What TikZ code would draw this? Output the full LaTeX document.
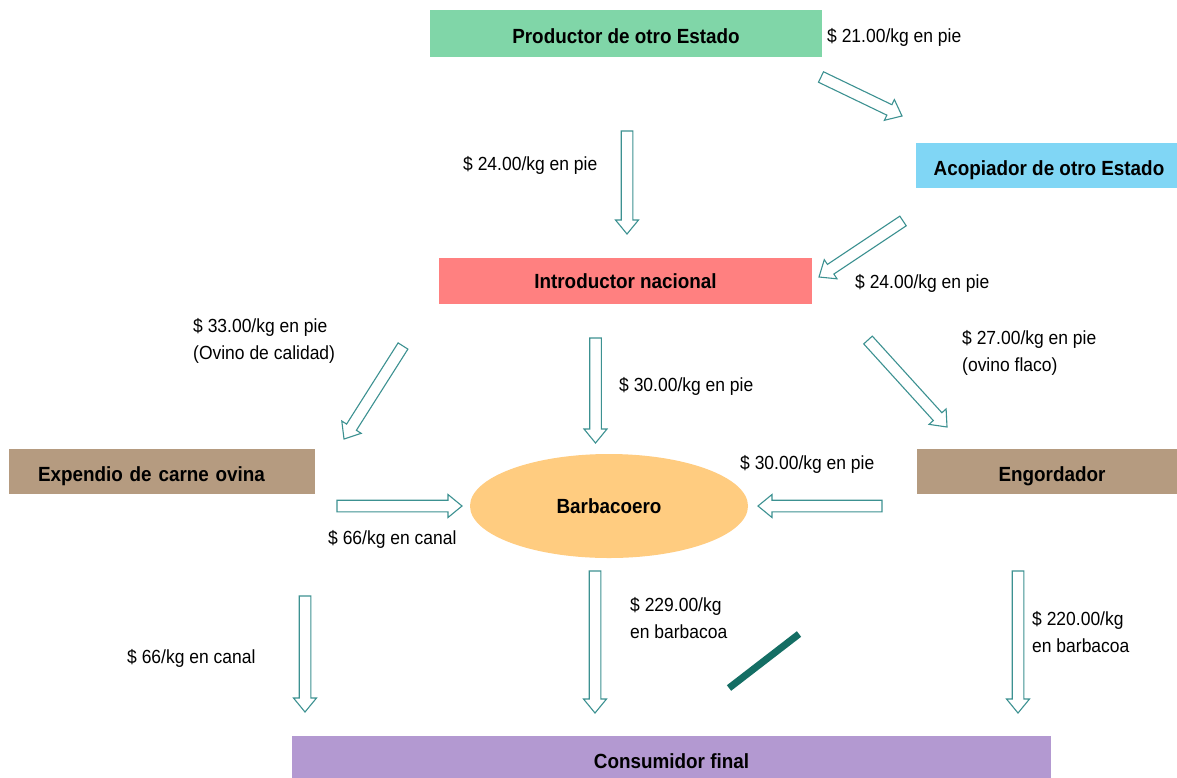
\documentclass[tikz,border=0pt]{standalone}
\usepackage{fontspec}
\setmainfont[FakeStretch=0.92]{Liberation Sans}
\usetikzlibrary{calc,shapes.geometric}
\definecolor{cgreen}{RGB}{128,214,168}
\definecolor{cblue}{RGB}{128,214,245}
\definecolor{cred}{RGB}{255,128,128}
\definecolor{ctan}{RGB}{181,155,128}
\definecolor{corange}{RGB}{255,204,128}
\definecolor{cpurple}{RGB}{179,153,209}
\definecolor{carrow}{RGB}{60,145,145}
\definecolor{cslash}{RGB}{20,110,100}
\newcommand\barrow[2]{%
  \coordinate (h-#1-#2) at ($(#2)!14pt!(#1)$);
  \draw[blockarr] ($(#1)!5.8pt!90:(#2)$) -- ($(h-#1-#2)!5.8pt!90:(#2)$)
    -- ($(h-#1-#2)!11.5pt!90:(#2)$) -- (#2)
    -- ($(h-#1-#2)!11.5pt!-90:(#2)$) -- ($(h-#1-#2)!5.8pt!-90:(#2)$)
    -- ($(#1)!5.8pt!-90:(#2)$) -- cycle;}
\begin{document}
\begin{tikzpicture}[x=1pt,y=-1pt,
  box/.style={draw=none,inner sep=0pt,font=\bfseries\fontsize{20.5}{24}\selectfont},
  low/.style={text height=19pt,text depth=0pt},
  lbl/.style={anchor=west,inner sep=0pt,align=left,font=\fontsize{19}{27}\selectfont},
  blockarr/.style={draw=carrow,line width=1.1pt,fill=white,line join=miter}]
\clip (0,0) rectangle (1177,777);
\fill[white] (0,0) rectangle (1177,777);
% boxes
\node[box,low,fill=cgreen,minimum width=392pt,minimum height=47pt] (prod) at (626,33.5) {Productor de otro Estado};
\node[box,low,fill=cblue,minimum width=261pt,minimum height=45pt] (acop) at (1046.5,165.5) {\hspace*{5pt}Acopiador de otro Estado};
\node[box,fill=cred,minimum width=373pt,minimum height=46pt] (intro) at (625.5,281) {Introductor nacional};
\node[box,low,fill=ctan,minimum width=306pt,minimum height=45pt,text width=306pt,align=left] (exp) at (162,471.5) {\hspace*{29pt}Expendio de carne ovina};
\node[box,low,fill=ctan,minimum width=260pt,minimum height=45pt] (eng) at (1047,471.5) {\hspace*{10pt}Engordador};
\node[box,ellipse,fill=corange,minimum width=278pt,minimum height=104pt] (barb) at (609,506) {Barbacoero};
\node[box,fill=cpurple,minimum width=759pt,minimum height=50pt] (cons) at (671.5,761) {Consumidor final};
% arrow end points
\coordinate (a1s) at (821,77);  \coordinate (a1e) at (902,116);
\coordinate (a2s) at (627,131); \coordinate (a2e) at (627,234);
\coordinate (a3s) at (903,221); \coordinate (a3e) at (819,277);
\coordinate (a4s) at (403,346); \coordinate (a4e) at (344,439);
\coordinate (a5s) at (595.5,338); \coordinate (a5e) at (595.5,443);
\coordinate (a6s) at (868,340); \coordinate (a6e) at (947,427);
\coordinate (a7s) at (337,506); \coordinate (a7e) at (462,506);
\coordinate (a8s) at (882,506); \coordinate (a8e) at (758,506);
\coordinate (a9s) at (305,596); \coordinate (a9e) at (305,712);
\coordinate (a10s) at (595,571); \coordinate (a10e) at (595,713);
\coordinate (a11s) at (1018,571); \coordinate (a11e) at (1018,713);
\barrow{a1s}{a1e}
\barrow{a2s}{a2e}
\barrow{a3s}{a3e}
\barrow{a4s}{a4e}
\barrow{a5s}{a5e}
\barrow{a6s}{a6e}
\barrow{a7s}{a7e}
\barrow{a8s}{a8e}
\barrow{a9s}{a9e}
\barrow{a10s}{a10e}
\barrow{a11s}{a11e}
% labels
\node[lbl] (l1) at (827,37) {\$ 21.00/kg en pie};
\node[lbl] (l2) at (463,165) {\$ 24.00/kg en pie};
\node[lbl] (l3) at (855,283) {\$ 24.00/kg en pie};
\node[lbl] (l4) at (193,340.5) {\$ 33.00/kg en pie\\(Ovino de calidad)};
\node[lbl] (l5) at (619,386) {\$ 30.00/kg en pie};
\node[lbl] (l6) at (962,353) {\$ 27.00/kg en pie\\(ovino flaco)};
\node[lbl] (l7) at (740,464) {\$ 30.00/kg en pie};
\node[lbl] (l8) at (328,539) {\$ 66/kg en canal};
\node[lbl] (l9) at (127,658) {\$ 66/kg en canal};
\node[lbl] (l10) at (630,618.5) {\$ 229.00/kg\\en barbacoa};
\node[lbl] (l11) at (1032,632) {\$ 220.00/kg\\en barbacoa};
% stray slash mark
\coordinate (s1) at (729,688); \coordinate (s2) at (799,634);
\draw[cslash,line width=7pt] (s1) -- (s2);
\end{tikzpicture}
\end{document}
